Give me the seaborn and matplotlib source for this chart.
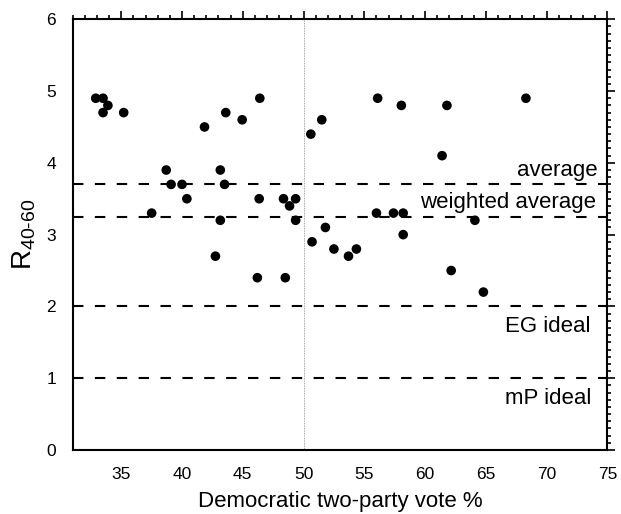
import matplotlib
matplotlib.use("Agg")
import matplotlib.pyplot as plt
from matplotlib.ticker import MultipleLocator
import seaborn as sns
import pandas as pd

# Data
dem_vote = [32.9, 33.5, 33.9, 33.5, 35.2, 41.85, 43.6, 44.95, 46.4, 50.6, 51.5,
            38.7, 39.1, 40.0, 40.4, 43.15, 43.5, 37.5, 43.15, 46.35, 48.35, 48.85,
            49.35, 49.35, 51.8, 50.7, 52.5, 53.7, 54.35, 42.75, 46.2, 48.5,
            56.1, 58.05, 61.8, 68.3, 61.4, 56.0, 57.4, 58.2, 58.2, 64.1, 62.15, 64.8]
r_values = [4.9, 4.9, 4.8, 4.7, 4.7, 4.5, 4.7, 4.6, 4.9, 4.4, 4.6,
            3.9, 3.7, 3.7, 3.5, 3.9, 3.7, 3.3, 3.2, 3.5, 3.5, 3.4,
            3.5, 3.2, 3.1, 2.9, 2.8, 2.7, 2.8, 2.7, 2.4, 2.4,
            4.9, 4.8, 4.8, 4.9, 4.1, 3.3, 3.3, 3.3, 3.0, 3.2, 2.5, 2.2]

ref_names = ["average", "weighted average", "EG ideal", "mP ideal"]
ref_values = [3.71, 3.245, 2.0, 1.0]

df = pd.DataFrame({"vote": dem_vote, "R": r_values})

sns.set_theme(style="white")
plt.rcParams['font.family'] = ['Liberation Sans', 'DejaVu Sans']
plt.rcParams['mathtext.fontset'] = 'custom'
plt.rcParams['mathtext.rm'] = 'Liberation Sans'
plt.rcParams['text.color'] = 'black'
plt.rcParams['axes.labelcolor'] = 'black'
plt.rcParams['xtick.color'] = 'black'
plt.rcParams['ytick.color'] = 'black'

fig = plt.figure(figsize=(6.21, 5.14), dpi=100)
ax = fig.add_axes([0.117, 0.1245, 0.861, 0.838])

ax.axvline(50, color="#888888", lw=0.6, ls=(0, (1, 1)), zorder=1)

for val in ref_values:
    ax.axhline(val, color="black", lw=1.5, ls=(0, (5, 5.5)), zorder=2)

sns.scatterplot(data=df, x="vote", y="R", ax=ax, color="black", s=48,
                edgecolor="none", linewidth=0, zorder=3, legend=False)

ax.text(74.2, ref_values[0] + 0.04, ref_names[0], ha="right", va="bottom", fontsize=16, color="black")
ax.text(74.1, ref_values[1] + 0.06, ref_names[1], ha="right", va="bottom", fontsize=16, color="black")
ax.text(70.1, ref_values[2] - 0.13, ref_names[2], ha="center", va="top", fontsize=16, color="black")
ax.text(70.1, ref_values[3] - 0.13, ref_names[3], ha="center", va="top", fontsize=16, color="black")

ax.set_xlim(31, 75)
ax.set_ylim(0, 6)
ax.xaxis.set_major_locator(MultipleLocator(5))
ax.xaxis.set_minor_locator(MultipleLocator(1))
ax.yaxis.set_major_locator(MultipleLocator(1))
ax.yaxis.set_minor_locator(MultipleLocator(0.1))
ax.set_xticks([35, 40, 45, 50, 55, 60, 65, 70, 75])

for sp in ax.spines.values():
    sp.set_visible(True)
    sp.set_color("black")
    sp.set_linewidth(1.5)

ax.tick_params(which="both", direction="out", top=True, right=True,
               labeltop=False, labelright=False, color="black", width=1.2)
ax.tick_params(which="major", length=5.5, labelsize=12.5, pad=6.5)
ax.tick_params(which="minor", length=3)

ax.set_xlabel("Democratic two-party vote %", fontsize=16, labelpad=7)
ax.set_ylabel(r"R$_{\mathregular{40‐60}}$", fontsize=20, labelpad=6)

fig.savefig("out.png", dpi=100)
